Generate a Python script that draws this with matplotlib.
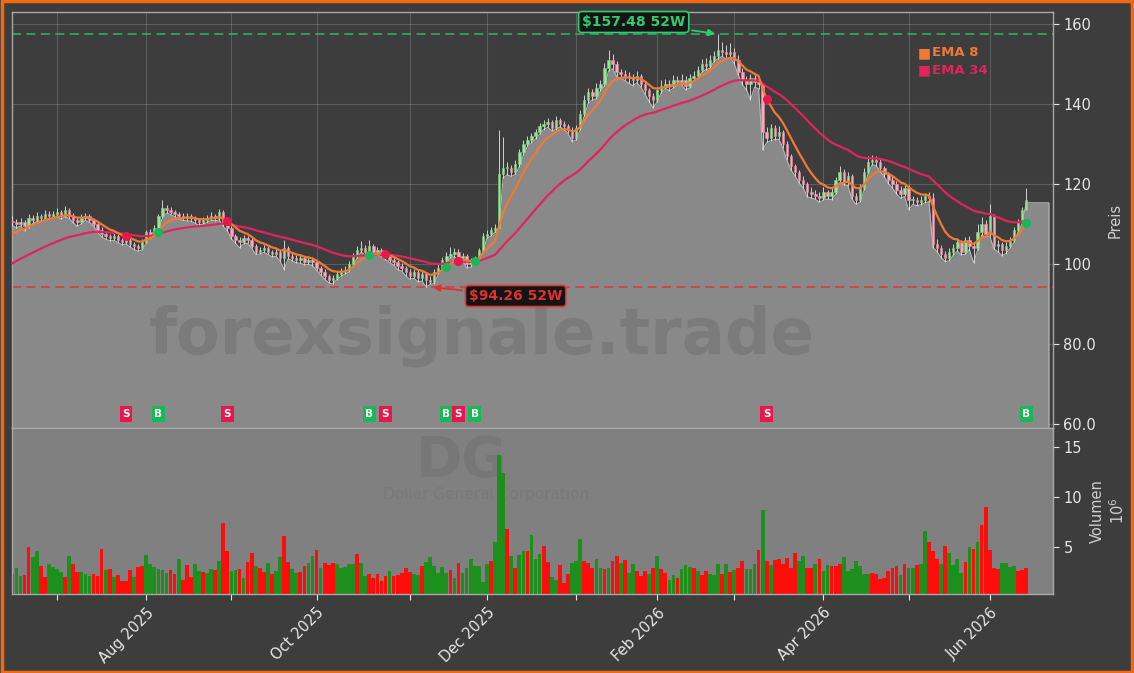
import numpy as np
import pandas as pd
import matplotlib
matplotlib.use("Agg")
import matplotlib.pyplot as plt
from matplotlib.patches import Rectangle

# ------------------------------------------------------------------ data
holidays = ["2025-06-19", "2025-07-04", "2025-09-01", "2025-11-27", "2025-12-25",
            "2026-01-01", "2026-01-19", "2026-02-16", "2026-04-03", "2026-05-25"]

# closes before the visible window (used only to seed the EMAs)
pre_closes = [94.1, 94.8, 95.3, 94.7, 95.6, 96.2, 95.8, 96.5, 97.0, 96.3,
              95.7, 96.0, 95.2, 94.8, 95.6, 96.3, 95.9, 95.1, 94.7, 95.4,
              96.1, 95.8, 96.4, 97.0, 108.8, 109.5, 108.3, 110.1, 109.4, 110.6]

closes = [110.5,
          110.0, 110.5, 109.5, 111.5,
          111.0, 112.0, 111.5, 112.5, 112.0,
          112.5, 113.0, 112.0, 113.5,
          112.0, 111.0, 110.5, 111.5, 112.0,
          111.0, 110.0, 108.5, 107.5, 107.0,
          106.5, 107.0, 106.0, 105.5, 106.0,
          105.0, 104.5, 104.0, 105.5, 108.0,
          107.5, 109.0, 112.0, 114.0, 113.5,
          113.0, 112.5, 112.0, 111.5, 112.0,
          111.5, 111.0, 110.5, 111.0, 111.5,
          112.0, 111.5, 113.0, 110.0, 109.0,
          107.0, 106.0, 105.5, 106.5,
          106.0, 104.5, 103.0, 103.5, 104.0,
          103.0, 102.5, 103.0, 101.5, 104.0,
          102.0, 101.5, 101.0, 101.5, 100.5,
          101.0, 100.5, 99.0, 98.0, 97.0,
          96.0, 96.5, 97.5, 98.0, 98.5,
          100.0, 102.0, 103.5, 104.0, 103.0,
          104.5, 103.0, 103.5, 102.5, 102.0,
          101.0, 100.5, 99.5, 99.0, 98.0,
          97.0, 98.0, 96.5, 97.5, 96.0,
          95.5, 98.0, 99.0, 101.0, 102.0,
          102.5, 103.0, 101.5, 102.0, 100.0,
          100.5, 101.0, 103.5, 107.0,
          107.5, 108.5, 109.0, 122.5, 124.0,
          124.0, 123.0, 125.0, 128.0, 130.0,
          131.0, 132.0, 133.0, 134.5, 135.0,
          135.5, 134.0, 136.0, 135.0,
          134.5, 133.5, 131.5, 134.0,
          137.5, 141.0, 143.0, 142.0, 144.0,
          145.0, 149.0, 151.0, 150.0, 148.0,
          147.5, 147.0, 146.5, 146.0,
          147.0, 145.0, 143.5, 142.0, 141.0,
          143.5, 144.5, 145.0, 144.5, 146.0,
          145.5, 146.0, 144.5, 146.5, 147.0,
          148.5, 150.0, 149.5, 151.0,
          152.0, 153.5, 153.0, 152.5, 153.0,
          151.0, 148.0, 146.0, 145.0, 146.5,
          145.5, 145.0, 133.0, 131.5, 134.0,
          132.0, 133.0, 130.0, 127.0, 124.5,
          123.0, 121.0, 120.0, 118.0, 117.5,
          117.0, 116.5, 118.0, 117.0,
          118.0, 121.0, 123.0, 120.5, 122.0,
          117.0, 116.0, 119.0, 123.0, 125.5,
          126.0, 125.5, 124.0, 122.5, 121.0,
          120.0, 118.5, 117.5, 119.0, 116.0,
          116.0, 115.5, 116.0, 117.0, 116.5,
          105.0, 104.0, 102.5, 101.5, 103.0,
          104.0, 105.5, 103.0, 106.0, 104.5,
          104.0, 108.0, 110.0, 107.5,
          112.0, 104.5, 105.0, 103.5, 104.5,
          106.0, 108.5, 110.5, 113.5, 116.0]

highs = [112.0,
         111.2, 111.4, 111.0, 112.6,
         112.2, 112.9, 112.6, 113.4, 113.2,
         113.3, 114.0, 113.6, 114.5,
         114.1, 112.7, 111.8, 112.4, 112.8,
         112.5, 111.3, 110.4, 109.2, 108.1,
         107.6, 107.8, 107.5, 106.6, 106.8,
         106.4, 105.6, 105.1, 106.2, 108.6,
         108.8, 109.8, 112.6, 115.9, 114.8,
         114.2, 113.6, 113.1, 112.7, 112.8,
         112.6, 112.1, 111.6, 111.8, 112.3,
         112.9, 112.6, 113.8, 113.4, 110.6,
         109.4, 107.6, 106.7, 107.3,
         107.1, 106.4, 104.9, 104.3, 104.8,
         104.6, 103.6, 103.8, 103.5, 105.9,
         104.4, 102.7, 102.2, 102.3, 102.0,
         101.8, 101.7, 100.9, 99.6, 98.7,
         97.6, 97.2, 98.2, 98.9, 99.4,
         100.7, 102.8, 104.6, 105.8, 104.7,
         106.0, 105.0, 104.3, 104.1, 103.2,
         102.6, 101.7, 101.0, 100.3, 99.6,
         98.7, 98.8, 98.5, 98.2, 98.0,
         97.0, 98.7, 99.9, 101.8, 102.9,
         104.2, 103.9, 103.7, 102.8, 102.6,
         101.4, 101.9, 104.1, 107.8,
         108.6, 109.3, 110.0, 133.5, 131.7,
         125.5, 124.8, 125.9, 128.8, 130.9,
         131.9, 132.8, 133.8, 135.3, 136.0,
         136.4, 136.1, 136.9, 136.5,
         135.7, 135.1, 134.2, 134.8,
         138.4, 142.3, 144.1, 143.8, 145.2,
         146.1, 150.2, 153.5, 152.4, 150.8,
         148.8, 148.4, 147.9, 147.5,
         148.2, 147.6, 145.8, 144.1, 142.7,
         144.3, 145.9, 146.3, 146.1, 147.3,
         147.1, 147.4, 146.9, 147.6, 148.3,
         149.6, 151.3, 151.6, 152.2,
         153.2, 157.48, 155.6, 154.8, 155.2,
         154.0, 152.3, 148.9, 147.1, 147.4,
         147.2, 146.3, 136.4, 134.2, 134.9,
         134.8, 134.6, 133.5, 130.8, 127.6,
         125.1, 123.6, 121.9, 120.6, 119.2,
         118.4, 118.1, 119.2, 118.6,
         119.0, 121.8, 124.4, 123.7, 122.9,
         122.6, 117.8, 119.9, 123.9, 127.0,
         127.2, 126.9, 126.2, 124.6, 123.1,
         121.9, 120.8, 119.4, 119.8, 119.7,
         117.1, 116.8, 116.9, 117.7, 117.9,
         117.7, 106.2, 104.7, 103.3, 104.1,
         105.0, 106.4, 105.9, 106.8, 106.9,
         105.6, 109.9, 111.7, 111.0,
         114.9, 112.6, 106.1, 105.6, 105.4,
         106.8, 109.2, 111.3, 114.3, 119.1]

lows = [109.6,
        109.0, 109.5, 108.3, 109.0,
        110.1, 110.6, 110.8, 111.0, 111.3,
        111.5, 112.0, 111.2, 111.8,
        111.4, 110.3, 109.4, 110.0, 110.9,
        110.4, 109.5, 107.9, 106.8, 106.2,
        105.8, 105.9, 105.4, 104.8, 105.0,
        104.3, 103.6, 103.2, 103.5, 105.2,
        106.9, 107.2, 108.8, 111.5, 112.7,
        112.4, 111.8, 111.3, 110.9, 110.8,
        110.7, 110.2, 109.7, 110.0, 110.4,
        110.9, 110.8, 111.0, 109.4, 108.3,
        106.3, 105.2, 104.1, 105.0,
        105.2, 103.9, 102.4, 102.5, 102.9,
        102.4, 101.8, 101.9, 100.8, 98.6,
        101.3, 100.8, 100.3, 100.2, 99.8,
        99.9, 99.6, 98.4, 97.3, 96.2,
        95.3, 95.0, 96.1, 96.9, 97.5,
        98.0, 99.6, 101.5, 103.0, 102.2,
        102.6, 102.4, 102.3, 101.8, 101.1,
        100.4, 99.7, 98.6, 98.2, 97.0,
        96.2, 96.4, 95.6, 95.7, 94.26,
        94.9, 95.1, 97.4, 98.5, 100.4,
        101.6, 101.8, 100.9, 100.8, 99.1,
        99.2, 99.8, 100.6, 103.1,
        106.4, 107.0, 107.9, 109.0, 121.5,
        122.3, 121.9, 122.4, 124.3, 127.2,
        129.4, 130.2, 131.3, 132.4, 133.6,
        134.2, 133.3, 133.6, 134.3,
        133.6, 132.7, 130.6, 131.0,
        133.5, 136.9, 140.2, 141.0, 141.3,
        143.2, 144.5, 148.2, 148.8, 146.9,
        146.4, 145.9, 145.2, 144.6,
        145.3, 144.2, 142.4, 140.6, 139.0,
        140.6, 142.8, 143.9, 143.3, 143.9,
        144.7, 144.8, 143.6, 144.0, 145.8,
        146.4, 147.9, 148.6, 148.9,
        150.6, 151.3, 151.9, 151.2, 151.6,
        150.1, 147.2, 144.8, 143.6, 141.0,
        144.2, 143.8, 128.5, 130.4, 130.8,
        131.1, 131.2, 128.9, 125.9, 123.5,
        122.0, 120.2, 119.1, 116.8, 116.5,
        116.2, 115.4, 116.0, 116.2,
        116.1, 117.4, 120.3, 119.8, 119.6,
        116.3, 114.9, 115.4, 118.5, 122.7,
        124.8, 124.6, 123.1, 121.8, 120.1,
        119.0, 117.6, 116.4, 116.9, 113.5,
        114.9, 114.6, 114.8, 115.3, 115.6,
        104.1, 103.1, 101.6, 100.6, 100.8,
        102.2, 103.2, 102.3, 102.4, 103.6,
        100.3, 103.5, 107.2, 106.8,
        107.0, 103.8, 103.1, 102.1, 102.6,
        103.9, 105.4, 108.0, 110.1, 115.3]

# volume in millions of shares
volumes = [2.3, 2.9, 2.1, 2.2, 5.0, 4.0, 4.6, 3.1, 2.0, 3.3,
           3.0, 2.8, 2.5, 2.0, 4.1, 3.3, 2.5, 2.5, 2.3, 2.1,
           2.3, 2.1, 4.8, 2.7, 2.8, 2.0, 2.2, 1.6, 1.6, 2.7,
           2.0, 3.0, 3.1, 4.2, 3.3, 3.0, 2.8, 2.7, 2.4, 2.7,
           2.3, 3.8, 1.7, 3.2, 2.0, 3.3, 2.6, 2.5, 2.4, 2.8,
           2.7, 3.6, 7.4, 4.6, 2.6, 2.7, 2.8, 1.9, 3.5, 4.4,
           3.1, 2.9, 2.5, 3.4, 2.3, 2.6, 4.0, 6.1, 3.5, 2.8,
           2.4, 2.5, 3.1, 3.4, 4.1, 4.7, 2.9, 3.4, 3.2, 3.4,
           3.3, 2.9, 3.0, 3.3, 3.3, 4.3, 3.4, 2.1, 2.3, 1.9,
           2.3, 1.6, 2.1, 2.6, 2.1, 2.2, 2.4, 2.9, 2.5, 2.3,
           2.2, 3.1, 3.5, 4.0, 3.1, 2.4, 3.0, 2.4, 2.7, 1.9,
           3.4, 2.4, 2.9, 3.8, 3.1, 3.1, 1.5, 3.3, 3.6, 5.5,
           14.2, 12.4, 6.8, 4.1, 2.9, 4.2, 4.6, 4.6, 6.2, 3.8,
           4.3, 5.1, 3.5, 2.0, 1.7,
           3.2, 1.4, 2.3, 3.4, 3.6, 5.8, 3.6, 3.4, 2.9, 3.8,
           2.9, 2.8, 2.9, 3.6, 4.1, 3.4, 3.7, 2.4, 3.3, 2.6,
           2.1, 2.6, 2.3, 2.9, 4.1, 2.8, 2.4, 1.7, 2.2, 1.9,
           2.8, 3.2, 3.0, 2.9, 2.6, 2.2, 2.6, 2.3, 2.2, 3.3,
           2.3, 3.3, 2.5, 2.7, 2.9, 3.6, 2.8, 2.8, 3.3, 4.7,
           8.7, 3.6, 3.2, 3.7, 3.8, 3.3, 3.9, 2.9, 4.4, 3.6,
           4.1, 2.9, 2.9, 3.3, 3.8, 2.6, 3.2, 3.1, 3.1, 3.3,
           4.0, 2.6, 2.8, 3.6, 3.1, 2.3, 2.3, 2.4, 2.3, 1.8,
           1.9, 2.6, 2.9, 3.1, 2.2, 3.3, 2.9, 2.9, 3.2, 3.3,
           6.6, 5.5, 4.6, 3.8, 3.3, 5.1, 4.4, 3.2, 3.8, 2.4,
           3.5, 5.0, 4.8, 5.5, 7.2, 9.0, 4.7, 2.9, 2.8, 3.4,
           3.4, 3.0, 3.1, 2.6, 2.7, 2.9]

# volume bar colour: g = up day, r = down day
vol_dir = ("rggrrggrrg" "gggrgrrggg" "rrrgrgrrrr" "grrggggggr" "rgrrrggrgg"
           "rgrrggrgrr" "grrgrggrrg" "grrggrgrrr" "gggggrggrr" "rrrgrrrrrg"
           "grggggggrg" "rgggggggrg" "ggrgrggrgg" "grrgg"
           "rrrgggrrrg" "grgrrgrggr" "rrgrgrrggr" "gggrgrrggg" "rgrgrrgggr"
           "grgrrrrrrg" "grrgrggrrr" "gggggggrrr" "rrrrgrggrg" "grrrgrgggg"
           "rgrgrrrrrg" "gggrrr")

signal_dates = ["2025-07-25", "2025-08-06", "2025-08-29", "2025-10-20", "2025-10-24",
                "2025-11-14", "2025-11-19", "2025-11-25", "2026-03-12", "2026-06-12"]
signal_types = ["S", "B", "S", "B", "S", "B", "S", "B", "S", "B"]

high_52w = 157.48
low_52w = 94.26

price_ticks = [60, 80, 100, 120, 140, 160]
price_tick_labels = ["60.0", "80.0", "100", "120", "140", "160"]
vol_ticks = [5, 10, 15]

# ------------------------------------------------------------------ prep
dates = pd.bdate_range("2025-06-13", "2026-06-12")
dates = dates[~dates.isin(pd.to_datetime(holidays))]
n = len(dates)
assert n == len(closes) == len(highs) == len(lows) == len(volumes) == len(vol_dir), \
    (n, len(closes), len(highs), len(lows), len(volumes), len(vol_dir))

closes = np.array(closes)
highs = np.array(highs)
lows = np.array(lows)
opens = np.concatenate([[pre_closes[-1]], closes[:-1]])
x = np.arange(n)

full = pd.Series(list(pre_closes) + list(closes))
ema8 = full.ewm(span=8, adjust=False).mean().values[len(pre_closes):]
ema34 = full.ewm(span=34, adjust=False).mean().values[len(pre_closes):]

month_idx = [i for i in range(1, n) if dates[i].month != dates[i - 1].month]
month_lab = [dates[i].strftime("%b %Y") if dates[i].month % 2 == 0 else "" for i in month_idx]

# ------------------------------------------------------------------ style
BG = "#3d3d3d"
AREA = "#898989"
VOLBG = "#808080"
TXT = "#e6e6e6"
ORANGE = "#f07a35"
CRIMSON = "#e0245e"

W, H = 1134, 673
fig = plt.figure(figsize=(W / 100, H / 100), dpi=100, facecolor=BG)
fig.patches.append(Rectangle((0.0015, 0.002), 0.997, 0.996, transform=fig.transFigure,
                             fill=False, edgecolor="#f26a10", linewidth=2.5, zorder=10))

L, R = 12, 1053
ax = fig.add_axes([L / W, (H - 428) / H, (R - L) / W, (428 - 12) / H])
axv = fig.add_axes([L / W, (H - 594) / H, (R - L) / W, (594 - 428) / H], sharex=ax)

xmax = n + 5.6
# ---------------- price panel
ax.set_facecolor(BG)
ax.set_xlim(-0.1, xmax)
ax.set_ylim(59, 163)

xa = np.concatenate([x, [n - 0.5, n + 4.6]])
la = np.concatenate([lows, [lows[-1], lows[-1]]])
ax.fill_between(xa, la, 0, color=AREA, zorder=1, linewidth=0)
ax.plot(np.concatenate([xa, [n + 4.6]]), np.concatenate([la, [0]]),
        color="#b5b5b5", lw=0.8, zorder=2)

ax.grid(True, color="#9a9a9a", alpha=0.35, lw=0.8, zorder=0)
ax.set_axisbelow(True)

# candles
up = closes >= opens
ax.vlines(x, lows, highs, color="#e8e8e8", lw=0.6, zorder=3)
body_lo = np.minimum(opens, closes)
body_h = np.maximum(np.abs(closes - opens), 0.25)
ax.bar(x[up], body_h[up], bottom=body_lo[up], width=0.6, color="#9be39b",
       edgecolor="#7fd07f", lw=0.4, zorder=4)
ax.bar(x[~up], body_h[~up], bottom=body_lo[~up], width=0.6, color="#f4a9bd",
       edgecolor="#e88aa2", lw=0.4, zorder=4)

ax.plot(x, ema34, color=CRIMSON, lw=1.6, zorder=5)
ax.plot(x, ema8, color=ORANGE, lw=1.6, zorder=6)

ax.axhline(high_52w, color="#2fb35a", ls=(0, (5, 3)), lw=1.3, alpha=0.9, zorder=2)
ax.axhline(low_52w, color="#d93a3a", ls=(0, (5, 3)), lw=1.3, alpha=0.9, zorder=2)

hi_i = int(np.argmax(highs))
lo_i = int(np.argmin(lows))
ax.annotate(f"${high_52w:.2f} 52W", xy=(hi_i, high_52w), xytext=(153.2, 160.5),
            ha="center", va="center", color="#2ecc71", fontsize=10, fontweight="bold",
            bbox=dict(boxstyle="round,pad=0.25", fc="#141414", ec="#2ecc71", lw=1.2),
            arrowprops=dict(arrowstyle="-|>", color="#2ecc71", lw=1.3, mutation_scale=10),
            zorder=8)
ax.annotate(f"${low_52w:.2f} 52W", xy=(lo_i + 1, low_52w), xytext=(124.1, 92.0),
            ha="center", va="center", color="#e03030", fontsize=10, fontweight="bold",
            bbox=dict(boxstyle="round,pad=0.25", fc="#141414", ec="#e03030", lw=1.2),
            arrowprops=dict(arrowstyle="-|>", color="#e03030", lw=1.3, mutation_scale=10),
            zorder=8)

# signals
for d, t in zip(signal_dates, signal_types):
    i = dates.get_loc(pd.Timestamp(d))
    col = "#18b858" if t == "B" else "#e8174a"
    ax.plot(i, ema8[i], "o", color=col, ms=5.5, zorder=7)
    ax.text(i, 62.5, t, color="white", fontsize=7.5, fontweight="bold",
            ha="center", va="center", zorder=8,
            bbox=dict(boxstyle="square,pad=0.25", fc=col, ec="none"))

ax.text(0.451, 0.222, "forexsignale.trade", transform=ax.transAxes, fontsize=46,
        fontweight="bold", color="#7b7b7b", ha="center", va="center", zorder=1.5)

# legend
ax.text(0.8705, 0.9015, "■", transform=ax.transAxes, color=ORANGE, fontsize=10,
        ha="left", va="center", zorder=9)
ax.text(0.8835, 0.9015, "EMA 8", transform=ax.transAxes, color=ORANGE, fontsize=9.5,
        fontweight="bold", ha="left", va="center", zorder=9)
ax.text(0.8705, 0.8605, "■", transform=ax.transAxes, color=CRIMSON, fontsize=10,
        ha="left", va="center", zorder=9)
ax.text(0.8835, 0.8605, "EMA 34", transform=ax.transAxes, color=CRIMSON, fontsize=9.5,
        fontweight="bold", ha="left", va="center", zorder=9)

ax.yaxis.tick_right()
ax.yaxis.set_label_position("right")
ax.set_yticks(price_ticks)
ax.set_yticklabels(price_tick_labels)
ax.set_ylabel("Preis", color="#cfcfcf", fontsize=10.5, labelpad=8)
ax.tick_params(axis="y", colors=TXT, labelsize=10.5, length=4)
ax.tick_params(axis="x", length=0, labelbottom=False)
ax.set_xticks(month_idx)
for s in ax.spines.values():
    s.set_color("#a8a8a8")
    s.set_linewidth(1.0)

# ---------------- volume panel
axv.set_facecolor(VOLBG)
vcol = ["#1d8f1d" if c == "g" else "#ff0d0d" for c in vol_dir]
axv.bar(x, volumes, width=0.92, color=vcol, linewidth=0, zorder=2)
axv.set_ylim(0.3, 16.9)
axv.set_xlim(-0.1, xmax)
axv.text(0.432, 0.80, "DG", transform=axv.transAxes, fontsize=40, fontweight="bold",
         color="#777777", ha="center", va="center", zorder=1)
axv.text(0.455, 0.6, "Dollar General Corporation", transform=axv.transAxes, fontsize=11,
         color="#7a7a7a", ha="center", va="center", zorder=1)
axv.yaxis.tick_right()
axv.yaxis.set_label_position("right")
axv.set_yticks(vol_ticks)
axv.set_ylabel("Volumen\n$10^6$", color="#cfcfcf", fontsize=10.5, labelpad=6)
axv.tick_params(axis="y", colors=TXT, labelsize=10.5, length=4)
axv.set_xticks(month_idx)
axv.set_xticklabels(month_lab, rotation=45, ha="right", rotation_mode="anchor")
axv.tick_params(axis="x", colors=TXT, labelsize=10.5, length=4, pad=4)
for s in axv.spines.values():
    s.set_color("#a8a8a8")
    s.set_linewidth(1.0)

fig.savefig("out.png", dpi=100, facecolor=BG)
